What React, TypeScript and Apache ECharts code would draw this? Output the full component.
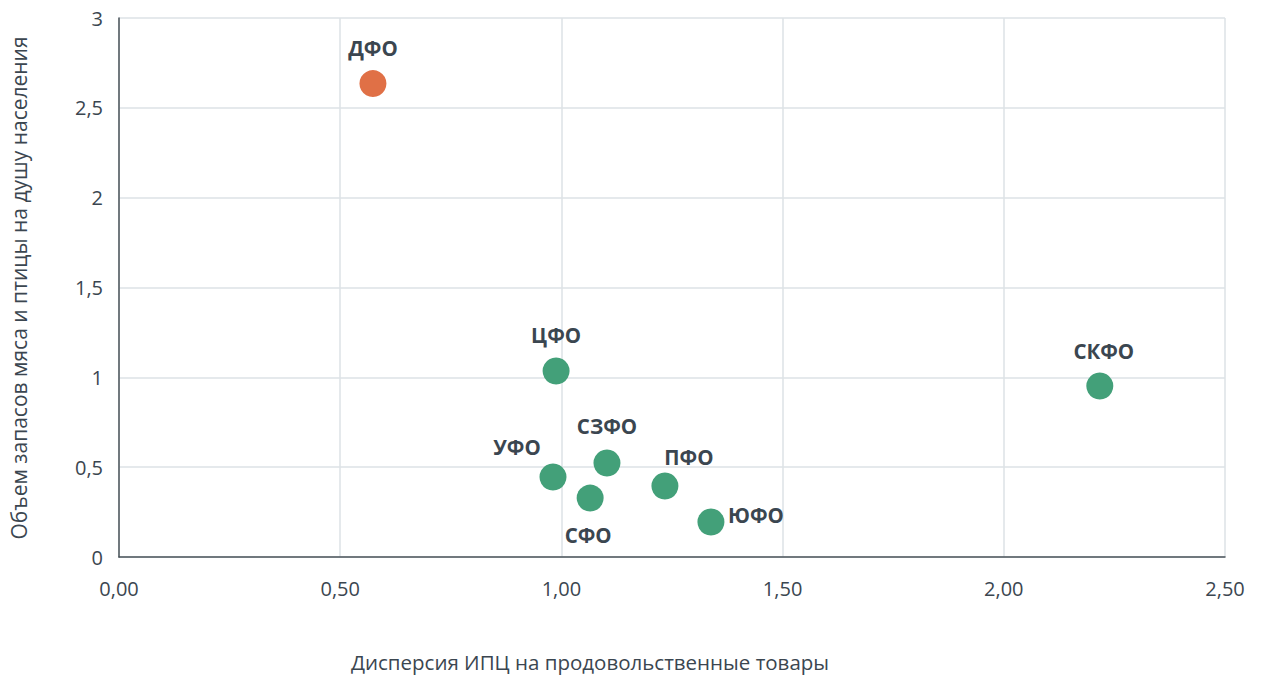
import React, { useEffect, useRef } from "react";
import * as echarts from "echarts";

const regions = ["ДФО", "ЦФО", "СКФО", "СЗФО", "УФО", "СФО", "ПФО", "ЮФО"];
const cpiDispersion = [0.574, 0.988, 2.217, 1.103, 0.981, 1.065, 1.234, 1.338];
const meatStock = [2.635, 1.035, 0.952, 0.523, 0.445, 0.328, 0.395, 0.195];
const highlighted = ["ДФО"];
const xTitle = "Дисперсия ИПЦ на продовольственные товары";
const yTitle = "Объем запасов мяса и птицы на душу населения";

const labelOffsets: number[][] = [
  [0, -36],
  [0, -36],
  [4, -35],
  [0, -37],
  [-36, -30],
  [-2, 37],
  [24, -29],
  [45, -7],
];

export default function App() {
  const ref = useRef<HTMLDivElement>(null);
  useEffect(() => {
    document.body.style.margin = "0";
    document.body.style.overflow = "hidden";
    if (!ref.current) return;
    const chart = echarts.init(ref.current, undefined, { renderer: "svg" });
    const textColor = "#3b4650";
    const font = "'Open Sans', 'Noto Sans', sans-serif";
    chart.setOption({
      animation: false,
      grid: { left: 119, right: 36, top: 18, bottom: 118, outerBoundsMode: "none" },
      xAxis: {
        type: "value",
        min: 0,
        max: 2.5,
        interval: 0.5,
        axisLine: { show: true, lineStyle: { color: "#4a535a", width: 1.5 } },
        axisTick: { show: false },
        axisLabel: {
          color: textColor,
          fontSize: 20,
          fontFamily: font,
          margin: 21,
          formatter: (v: number) => v.toFixed(2).replace(".", ","),
        },
        splitLine: { show: true, lineStyle: { color: "#dde2e6", width: 1.5 } },
      },
      yAxis: {
        type: "value",
        min: 0,
        max: 3,
        interval: 0.5,
        axisLine: { show: true, lineStyle: { color: "#4a535a", width: 1.5 } },
        axisTick: { show: false },
        axisLabel: {
          color: textColor,
          fontSize: 20,
          fontFamily: font,
          margin: 16,
          formatter: (v: number) => String(v).replace(".", ","),
        },
        splitLine: { show: true, lineStyle: { color: "#dde2e6", width: 1.5 } },
      },
      graphic: [
        {
          type: "text",
          x: 590,
          y: 662,
          style: {
            text: xTitle,
            fill: textColor,
            font: `20.5px ${font}`,
            textAlign: "center",
            textVerticalAlign: "middle",
          },
        },
        {
          type: "text",
          x: 19,
          y: 288,
          rotation: Math.PI / 2,
          style: {
            text: yTitle,
            fill: textColor,
            font: `21px ${font}`,
            textAlign: "center",
            textVerticalAlign: "middle",
          },
        },
      ],
      series: [
        {
          type: "scatter",
          symbolSize: 27,
          data: regions.map((name, i) => ({
            name,
            value: [cpiDispersion[i], meatStock[i]],
            itemStyle: {
              color: highlighted.includes(name) ? "#e07046" : "#43a079",
              opacity: 1,
            },
            label: {
              show: true,
              position: "inside",
              offset: labelOffsets[i],
              formatter: name,
              color: textColor,
              fontSize: 20.5,
              fontWeight: "bold",
              fontFamily: font,
            },
          })),
        },
      ],
    });
    return () => chart.dispose();
  }, []);
  return <div ref={ref} style={{ width: 1261, height: 675 }} />;
}
